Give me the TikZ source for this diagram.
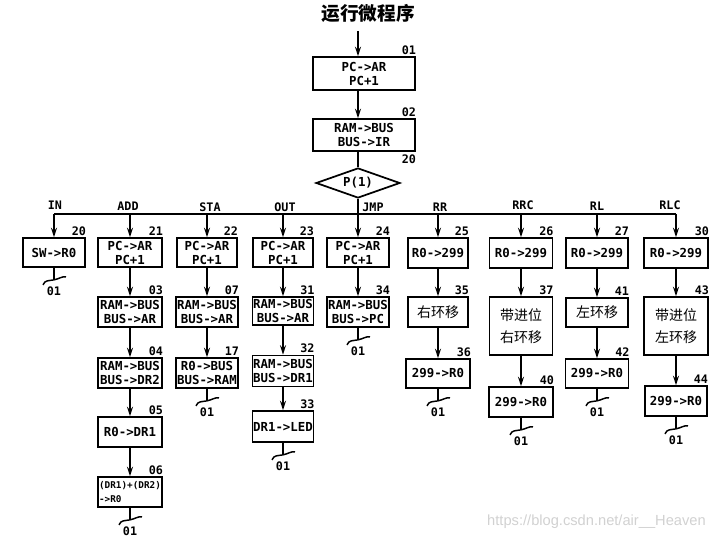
\documentclass[tikz,border=0pt]{standalone}
\usepackage{fontspec}
\setmainfont{DejaVu Sans}
\setmonofont{DejaVu Sans Mono}
\newfontfamily\cjk{Noto Sans CJK SC}
\newfontfamily\wmfont{Liberation Sans}
\usetikzlibrary{arrows.meta,shapes.geometric,calc}
\tikzset{
  ln/.style={line width=1.3pt},
  arr/.style={ln,-{Stealth[length=7pt,width=4.5pt]}},
  bx/.style 2 args={draw,ln,minimum width=#1*0.75pt,minimum height=#2*0.75pt,inner sep=0.5pt,
     align=center,font=\ttfamily\bfseries\fontsize{9.3}{10.5}\selectfont},
  cbx/.style 2 args={bx={#1}{#2},font=\cjk\fontsize{10.5}{16}\selectfont},
  numlbl/.style={font=\ttfamily\bfseries\fontsize{8.8}{9}\selectfont,inner sep=0.5pt},
  collbl/.style={font=\ttfamily\bfseries\fontsize{8.8}{9}\selectfont,inner sep=0.5pt},
}
\newcommand{\boxnum}[2]{\node[numlbl,anchor=south east] at ($(#1.north east)+(1,-1)$) {#2};}
\newcommand{\tailmark}[2]{%
  \draw[ln] (#1.south) -- ++(0,12) coordinate (#2);
  \draw[line width=1.1pt] ($(#2)+(-11,5)$) .. controls ($(#2)+(-9,0)$) and ($(#2)+(-5,1)$) .. (#2)
     .. controls ($(#2)+(5,-1)$) and ($(#2)+(9,-4)$) .. ($(#2)+(12,-3)$);
  \node[numlbl] at ($(#2)+(0,11)$) {01};}
\begin{document}
\begin{tikzpicture}[x=0.75pt,y=-0.75pt]
\useasboundingbox (0,0) rectangle (715,541);
% title
\node[font=\cjk\bfseries\fontsize{14}{16}\selectfont,inner sep=0] (title) at (368,13) {运行微程序};
\coordinate (start) at (358,31);
% top chain
\node[bx={102}{33}] (b01) at (364,73.5) {PC->AR\\PC+1};
\node[bx={102}{32}] (b02) at (364,135) {RAM->BUS\\BUS->IR};
\node[draw,ln,shape=diamond,aspect=2.8,minimum width=84*0.75pt,minimum height=30*0.75pt,inner sep=0pt,
      font=\ttfamily\bfseries\fontsize{9.3}{10}\selectfont] (dia) at (358,183) {P(1)};
\boxnum{b01}{01}
\boxnum{b02}{02}
\node[numlbl,anchor=south east] at ($(b02.south east)+(1,13)$) {20};
\draw[arr] (start) -- (b01.north -| start);
\draw[arr] (b01.south -| start) -- (b02.north -| start);
\draw[ln] (b02.south -| start) -- (dia.north);
% row 1
\node[bx={62}{29}] (b20) at (54,252.5) {SW->R0};
\node[bx={64}{29}] (b21) at (130,252.5) {PC->AR\\PC+1};
\node[bx={60}{29}] (b22) at (207,252.5) {PC->AR\\PC+1};
\node[bx={60}{29}] (b23) at (283,252.5) {PC->AR\\PC+1};
\node[bx={62}{29}] (b24) at (358,252.5) {PC->AR\\PC+1};
\node[bx={60}{30}] (b25) at (438,253) {R0->299};
\node[bx={63}{30}] (b26) at (521,253) {R0->299};
\node[bx={62}{30}] (b27) at (597,253) {R0->299};
\node[bx={64}{30}] (b30) at (676,253) {R0->299};
% bus
\coordinate (busL) at (b20.north |- 0,214);
\coordinate (busR) at (b30.north |- 0,214);
\draw[ln] (busL) -- (busR);
\draw[ln] (dia.south) -- (dia.south |- busL);
\foreach \n in {b20,b21,b22,b23,b24,b25,b26,b27,b30}{
  \draw[arr] (\n.north |- busL) -- (\n.north);
}
\node[collbl] at (55,205) {IN};
\node[collbl] at (128,206) {ADD};
\node[collbl] at (210,207) {STA};
\node[collbl] at (285,207) {OUT};
\node[collbl] at (373,207) {JMP};
\node[collbl] at (440,207) {RR};
\node[collbl] at (523,205) {RRC};
\node[collbl] at (597,206) {RL};
\node[collbl] at (670,205) {RLC};
\boxnum{b20}{20}\boxnum{b21}{21}\boxnum{b22}{22}\boxnum{b23}{23}\boxnum{b24}{24}
\boxnum{b25}{25}\boxnum{b26}{26}\boxnum{b27}{27}\boxnum{b30}{30}
% row 2
\node[bx={64}{30}] (b03) at (130,312) {RAM->BUS\\BUS->AR};
\node[bx={62}{30}] (b07) at (207,312) {RAM->BUS\\BUS->AR};
\node[bx={60}{28}] (b31) at (283,311) {RAM->BUS\\BUS->AR};
\node[bx={62}{30}] (b34) at (358,312) {RAM->BUS\\BUS->PC};
\node[cbx={60}{30}] (b35) at (438,312) {右环移};
\node[cbx={63}{58}] (b37) at (521,326) {带进位\\右环移};
\node[cbx={62}{29}] (b41) at (597,312.5) {左环移};
\node[cbx={64}{58}] (b43) at (676,326) {带进位\\左环移};
\boxnum{b03}{03}\boxnum{b07}{07}\boxnum{b31}{31}\boxnum{b34}{34}
\boxnum{b35}{35}\boxnum{b37}{37}\boxnum{b41}{41}\boxnum{b43}{43}
% row 3
\node[bx={64}{30}] (b04) at (130,373) {RAM->BUS\\BUS->DR2};
\node[bx={62}{30}] (b17) at (207,373) {R0->BUS\\BUS->RAM};
\node[bx={60}{31}] (b32) at (283,371) {RAM->BUS\\BUS->DR1};
\node[bx={64}{29}] (b36) at (438,373.5) {299->R0};
\node[bx={63}{29}] (b42) at (597,373.5) {299->R0};
\boxnum{b04}{04}\boxnum{b17}{17}\boxnum{b32}{32}\boxnum{b36}{36}\boxnum{b42}{42}
% row 4
\node[bx={64}{30}] (b05) at (130,432) {R0->DR1};
\node[bx={60}{31}] (b33) at (283,426.5) {DR1->LED};
\node[bx={64}{30}] (b40) at (521,402) {299->R0};
\node[bx={62}{30}] (b44) at (676,401) {299->R0};
\boxnum{b05}{05}\boxnum{b33}{33}\boxnum{b40}{40}\boxnum{b44}{44}
% row 5
\node[bx={64}{30},align=left,font=\ttfamily\bfseries\fontsize{7}{10}\selectfont] (b06) at (130,492) {(DR1)+(DR2)\\->R0\phantom{0000000}};
\boxnum{b06}{06}
% vertical arrows
\draw[arr] (b21) -- (b03);
\draw[arr] (b03) -- (b04);
\draw[arr] (b04) -- (b05);
\draw[arr] (b05) -- (b06);
\draw[arr] (b22) -- (b07);
\draw[arr] (b07) -- (b17);
\draw[arr] (b23) -- (b31);
\draw[arr] (b31) -- (b32);
\draw[arr] (b32) -- (b33);
\draw[arr] (b24) -- (b34);
\draw[arr] (b25) -- (b35);
\draw[arr] (b35) -- (b36);
\draw[arr] (b26) -- (b37);
\draw[arr] (b37) -- (b40);
\draw[arr] (b27) -- (b41);
\draw[arr] (b41) -- (b42);
\draw[arr] (b30) -- (b43);
\draw[arr] (b43) -- (b44);
% tails
\tailmark{b20}{t20}
\tailmark{b06}{t06}
\tailmark{b17}{t17}
\tailmark{b33}{t33}
\tailmark{b34}{t34}
\tailmark{b36}{t36}
\tailmark{b40}{t40}
\tailmark{b42}{t42}
\tailmark{b44}{t44}
% watermark
\node[font=\wmfont\fontsize{11}{12}\selectfont,text=black!18,anchor=east,inner sep=0] (wm) at (706,522) {https://blog.csdn.net/air\_\_Heaven};
\end{tikzpicture}
\end{document}
